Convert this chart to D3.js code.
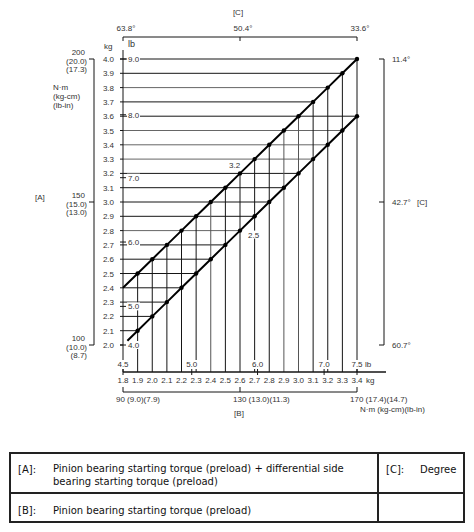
<!DOCTYPE html>
<html lang="en">
<head>
    <meta charset="UTF-8">
    <script src="https://d3js.org/d3.v7.min.js"></script>
    <title>Preload chart</title>
    <style>
        body { margin: 0; background: #fff; }
        svg { display: block; }
        .lbl { font-family: "Liberation Sans", Arial, sans-serif; font-size: 8px; fill: #333; }
        .tbl { font-family: "DejaVu Sans", Verdana, sans-serif; font-size: 10px; fill: #111; }
    </style>
</head>
<body>
    <svg id="chart" width="474" height="532"></svg>

    <script>
        // [B] pinion preload (kg), bottom axis
        const kgB = [1.8, 1.9, 2.0, 2.1, 2.2, 2.3, 2.4, 2.5, 2.6, 2.7, 2.8, 2.9, 3.0, 3.1, 3.2, 3.3, 3.4];
        // [A] total preload (kg), left axis
        const kgA = [2.0, 2.1, 2.2, 2.3, 2.4, 2.5, 2.6, 2.7, 2.8, 2.9, 3.0, 3.1, 3.2, 3.3, 3.4, 3.5, 3.6, 3.7, 3.8, 3.9, 4.0];

        // upper and lower limit lines
        const upperB = [1.8, 1.9, 2.0, 2.1, 2.2, 2.3, 2.4, 2.5, 2.6, 2.7, 2.8, 2.9, 3.0, 3.1, 3.2, 3.3, 3.4];
        const upperA = [2.4, 2.5, 2.6, 2.7, 2.8, 2.9, 3.0, 3.1, 3.2, 3.3, 3.4, 3.5, 3.6, 3.7, 3.8, 3.9, 4.0];
        const lowerB = [1.83, 1.9, 2.0, 2.1, 2.2, 2.3, 2.4, 2.5, 2.6, 2.7, 2.8, 2.9, 3.0, 3.1, 3.2, 3.3, 3.4];
        const lowerA = [2.03, 2.1, 2.2, 2.3, 2.4, 2.5, 2.6, 2.7, 2.8, 2.9, 3.0, 3.1, 3.2, 3.3, 3.4, 3.5, 3.6];

        // lb labels and where they sit on the kg scales
        const lbLeft = ["9.0", "8.0", "7.0", "6.0", "5.0", "4.0"];
        const lbLeftAt = [4.0, 3.61, 3.17, 2.72, 2.27, 2.0];
        const lbBottom = ["4.5", "5.0", "6.0", "7.0", "7.5"];
        const lbBottomAt = [1.8, 2.27, 2.72, 3.175, 3.4];

        // [C] degree labels
        const degTop = ["63.8°", "50.4°", "33.6°"];
        const degTopAt = [1.8, 2.6, 3.4];
        const degRight = ["11.4°", "42.7°", "60.7°"];
        const degRightAt = [4.0, 3.0, 2.0];

        // N·m (kg-cm) (lb-in) labels
        const torqueLeft = [["200", "(20.0)", "(17.3)"], ["150", "(15.0)", "(13.0)"], ["100", "(10.0)", "(8.7)"]];
        const torqueLeftAt = [4.0, 3.0, 2.0];
        const torqueBottom = ["90 (9.0)(7.9)", "130 (13.0)(11.3)", "170 (17.4)(14.7)"];
        const torqueBottomAt = [1.8, 2.6, 3.4];

        // value notes on the lines
        const notes = [{ b: 2.6, a: 3.2, text: "3.2", dx: -11, dy: -5 }, { b: 2.6, a: 2.8, text: "2.5", dx: 8, dy: 7 }];

        const legendRows = [
            ["[A]:", "Pinion bearing starting torque (preload) + differential side", "bearing starting torque (preload)"],
            ["[B]:", "Pinion bearing starting torque (preload)"]
        ];
        const legendSide = ["[C]:", "Degree"];

        const x = d3.scaleLinear().domain([1.8, 3.4]).range([123, 357]);
        const y = d3.scaleLinear().domain([2.0, 4.0]).range([345, 59]);
        const plotBottom = 372;

        const svg = d3.select("#chart");
        const ink = "#151515";

        // lookup: kg [A] -> kg [B] on each limit line
        const upperInv = d3.scaleLinear().domain(upperA).range(upperB);
        const lowerInv = d3.scaleLinear().domain(lowerA).range(lowerB);

        // horizontal grid, out to the rightmost line
        const grid = svg.append("g").attr("stroke", ink).attr("stroke-width", 1);
        kgA.filter(a => a > 2.05).forEach(a => {
            const b = a <= 3.6 ? lowerInv(a) : upperInv(a);
            grid.append("line")
                .attr("x1", x(1.8)).attr("x2", x(b))
                .attr("y1", y(a)).attr("y2", y(a))
                .attr("stroke", [3.8, 3.5, 3.4, 3.3, 2.8].includes(a) ? "#666" : ink);
        });

        // vertical grid, up to the upper line
        kgB.slice(1).forEach((b, i) => {
            grid.append("line")
                .attr("x1", x(b)).attr("x2", x(b))
                .attr("y1", plotBottom).attr("y2", y(upperA[i + 1]))
                .attr("stroke", [2.4, 2.9, 3.0].includes(b) ? "#555" : ink);
        });

        // left axis
        grid.append("line").attr("x1", x(1.8)).attr("x2", x(1.8)).attr("y1", 50).attr("y2", plotBottom);
        svg.append("g").selectAll("line").data(kgA).join("line")
            .attr("x1", x(1.8) - 3).attr("x2", x(1.8))
            .attr("y1", d => y(d)).attr("y2", d => y(d))
            .attr("stroke", ink);
        svg.append("g").selectAll("text").data(kgA).join("text")
            .attr("class", "lbl")
            .attr("x", 114).attr("y", d => y(d) + 3)
            .attr("text-anchor", "end")
            .text(d => d.toFixed(1));
        svg.append("text").attr("class", "lbl").attr("x", 104).attr("y", 49).text("kg");
        svg.append("text").attr("class", "lbl").attr("x", 128).attr("y", 47)
            .style("font-size", "9px").text("lb");

        // lb marks on left axis, each on a small white patch
        lbLeft.forEach((t, i) => {
            const yy = y(lbLeftAt[i]);
            svg.append("rect").attr("x", x(1.8) + 4).attr("y", yy - 4)
                .attr("width", 13).attr("height", 8).attr("fill", "#fff");
            svg.append("line").attr("x1", x(1.8) - 3).attr("x2", x(1.8) + 3)
                .attr("y1", yy).attr("y2", yy).attr("stroke", ink);
            svg.append("text").attr("class", "lbl")
                .attr("x", x(1.8) + 5).attr("y", yy + 3).text(t);
        });

        // bottom axis
        svg.append("line").attr("x1", x(1.8)).attr("x2", 386)
            .attr("y1", plotBottom).attr("y2", plotBottom)
            .attr("stroke", ink).attr("stroke-width", 1.5);
        svg.append("g").selectAll("text").data(kgB).join("text")
            .attr("class", "lbl")
            .attr("x", d => x(d)).attr("y", plotBottom + 11)
            .attr("text-anchor", "middle")
            .text(d => d.toFixed(1));
        svg.append("text").attr("class", "lbl").attr("x", x(3.4) + 9).attr("y", plotBottom + 11).text("kg");
        lbBottom.forEach((t, i) => {
            const xx = x(lbBottomAt[i]);
            svg.append("rect").attr("x", xx - 7).attr("y", plotBottom - 12)
                .attr("width", 14).attr("height", 9).attr("fill", "#fff");
            svg.append("line").attr("x1", xx).attr("x2", xx)
                .attr("y1", plotBottom - 3).attr("y2", plotBottom + 3).attr("stroke", ink);
            svg.append("text").attr("class", "lbl")
                .attr("x", xx).attr("y", plotBottom - 5)
                .attr("text-anchor", "middle").text(t);
        });
        svg.append("text").attr("class", "lbl").attr("x", x(3.4) + 8).attr("y", plotBottom - 5).text("lb");

        // limit lines with dots
        const line = d3.line().x(d => x(d[0])).y(d => y(d[1]));
        const upperPts = upperB.map((b, i) => [b, upperA[i]]);
        const lowerPts = lowerB.map((b, i) => [b, lowerA[i]]);
        [upperPts, lowerPts].forEach(pts => {
            svg.append("path").datum(pts)
                .attr("d", line)
                .attr("fill", "none").attr("stroke", "#000").attr("stroke-width", 2);
            svg.append("g").selectAll("circle").data(pts.slice(1)).join("circle")
                .attr("cx", d => x(d[0])).attr("cy", d => y(d[1]))
                .attr("r", 2.2).attr("fill", "#000");
        });
        notes.forEach(n => {
            svg.append("rect").attr("x", x(n.b) + n.dx - 1).attr("y", y(n.a) + n.dy - 7)
                .attr("width", 13).attr("height", 8).attr("fill", "#fff");
            svg.append("text").attr("class", "lbl")
                .attr("x", x(n.b) + n.dx).attr("y", y(n.a) + n.dy)
                .text(n.text);
        });

        // top [C] scale
        svg.append("line").attr("x1", x(1.8)).attr("x2", x(3.4))
            .attr("y1", 37).attr("y2", 37).attr("stroke", ink);
        degTop.forEach((t, i) => {
            const xx = x(degTopAt[i]);
            svg.append("line").attr("x1", xx).attr("x2", xx)
                .attr("y1", 37).attr("y2", 41).attr("stroke", ink);
            svg.append("text").attr("class", "lbl")
                .attr("x", xx + 3).attr("y", 31)
                .attr("text-anchor", "middle").text(t);
        });
        svg.append("text").attr("class", "lbl").attr("x", 238).attr("y", 15)
            .attr("text-anchor", "middle").text("[C]");

        // right [C] scale
        svg.append("line").attr("x1", 384).attr("x2", 384)
            .attr("y1", y(4.0)).attr("y2", y(2.0)).attr("stroke", ink);
        degRight.forEach((t, i) => {
            const yy = y(degRightAt[i]);
            svg.append("line").attr("x1", 379).attr("x2", 384)
                .attr("y1", yy).attr("y2", yy).attr("stroke", ink);
            svg.append("text").attr("class", "lbl")
                .attr("x", 392).attr("y", yy + 3).text(t);
        });
        svg.append("text").attr("class", "lbl").attr("x", 417).attr("y", y(3.0) + 3).text("[C]");

        // left [A] torque bracket
        svg.append("line").attr("x1", 94).attr("x2", 94)
            .attr("y1", y(4.0)).attr("y2", y(2.0)).attr("stroke", ink);
        torqueLeft.forEach((rows, i) => {
            const yy = y(torqueLeftAt[i]);
            svg.append("line").attr("x1", 89).attr("x2", 94)
                .attr("y1", yy).attr("y2", yy).attr("stroke", ink);
            rows.forEach((t, j) => {
                svg.append("text").attr("class", "lbl")
                    .attr("x", 87 - (j === 0 ? 2 : 0)).attr("y", yy - 4 + j * 8.5)
                    .attr("text-anchor", "end").text(t);
            });
        });
        ["N·m", "(kg-cm)", "(lb-in)"].forEach((t, j) => {
            svg.append("text").attr("class", "lbl")
                .attr("x", 53).attr("y", 90 + j * 9).text(t);
        });
        svg.append("text").attr("class", "lbl").attr("x", 35).attr("y", 200).text("[A]");

        // bottom [B] torque bracket
        svg.append("line").attr("x1", x(1.8)).attr("x2", x(3.4))
            .attr("y1", 392).attr("y2", 392).attr("stroke", ink);
        torqueBottom.forEach((t, i) => {
            const xx = x(torqueBottomAt[i]);
            svg.append("line").attr("x1", xx).attr("x2", xx)
                .attr("y1", 387).attr("y2", 392).attr("stroke", ink);
            svg.append("text").attr("class", "lbl")
                .attr("x", xx - 7).attr("y", 402).text(t);
        });
        svg.append("text").attr("class", "lbl").attr("x", 360).attr("y", 412).text("N·m (kg-cm)(lb-in)");
        svg.append("text").attr("class", "lbl").attr("x", 239).attr("y", 416)
            .attr("text-anchor", "middle").text("[B]");

        // legend table
        const tbl = svg.append("g");
        tbl.append("rect").attr("x", 10).attr("y", 453).attr("width", 454).attr("height", 69)
            .attr("fill", "none").attr("stroke", "#222").attr("stroke-width", 2);
        tbl.append("line").attr("x1", 10).attr("x2", 464).attr("y1", 493).attr("y2", 493)
            .attr("stroke", "#222").attr("stroke-width", 2);
        tbl.append("line").attr("x1", 378).attr("x2", 378).attr("y1", 453).attr("y2", 522)
            .attr("stroke", "#222").attr("stroke-width", 2);
        const rowY = [473, 514];
        legendRows.forEach((r, i) => {
            tbl.append("text").attr("class", "tbl").attr("x", 18).attr("y", rowY[i]).text(r[0]);
            r.slice(1).forEach((t, j) => {
                tbl.append("text").attr("class", "tbl")
                    .attr("x", 53).attr("y", rowY[i] - (r.length === 3 ? 1 : 0) + j * 13).text(t);
            });
        });
        tbl.append("text").attr("class", "tbl").attr("x", 386).attr("y", 473).text(legendSide[0]);
        tbl.append("text").attr("class", "tbl").attr("x", 420).attr("y", 473).text(legendSide[1]);
    </script>
</body>
</html>
